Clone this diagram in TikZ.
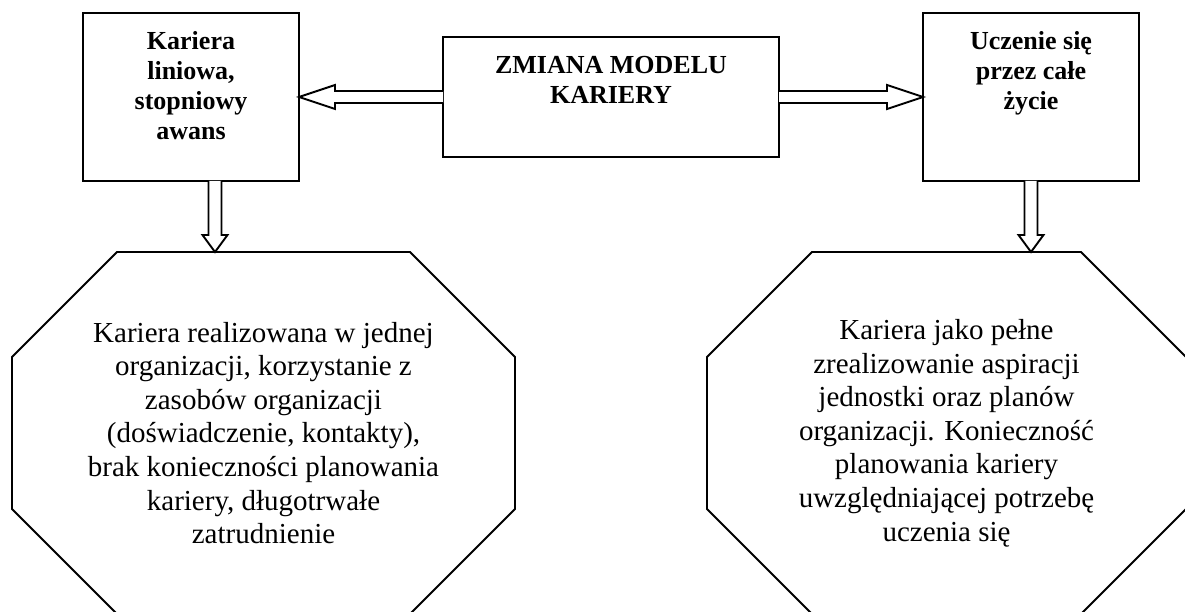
\documentclass[tikz,border=0pt]{standalone}
\usepackage{fontspec}
\setmainfont{Liberation Serif}
\usetikzlibrary{calc}
% top-aligned text block inside a fixed-size box
\newcommand\boxlines[3]{\parbox[c][#1pt][t]{#2pt}{\centering\rule{0pt}{37pt}#3}}
\begin{document}
\begin{tikzpicture}[x=1pt,y=-1pt,
  every node/.style={outer sep=0pt, inner sep=0pt},
  box/.style={draw, line width=1.9pt, font=\fontsize{26}{30}\selectfont\bfseries},
  octo/.style={minimum width=#1, minimum height=362, align=center,
               font=\fontsize{29}{33.6}\selectfont},
  outline/.style={line width=1.9pt, line join=miter},
  fatarrow/.style={line width=1.9pt, fill=white, line join=miter}]
\useasboundingbox (0,0) rectangle (1185,612);

% boxes
\node[box] (kl) at (191,97) {\boxlines{168}{216}{Kariera\\ liniowa,\\ stopniowy\\ awans}};
\node[box] (mid) at (611,97) {\boxlines{120}{336}{ZMIANA MODELU\\ KARIERY}};
\node[box] (kr) at (1031,97) {\boxlines{168}{216}{Uczenie się\\ przez całe\\ życie}};

% octagons
\node[octo=503] (o1) at (263.5,433) {Kariera realizowana w jednej\\ organizacji, korzystanie z\\ zasobów organizacji\\ (doświadczenie, kontakty),\\ brak konieczności planowania\\ kariery, długotrwałe\\ zatrudnienie};
\node[octo=479] (o2) at (946.5,433) {Kariera jako pełne\\ zrealizowanie aspiracji\\ jednostki oraz planów\\ organizacji. Konieczność\\ planowania kariery\\ uwzględniającej potrzebę\\ uczenia się};

\foreach \o in {o1,o2}{
  \draw[outline] ($(\o.north west)+(105,0)$) -- ($(\o.north east)+(-105,0)$)
    -- ($(\o.north east)+(0,105)$) -- ($(\o.south east)+(0,-105)$)
    -- ($(\o.south east)+(-105,0)$) -- ($(\o.south west)+(105,0)$)
    -- ($(\o.south west)+(0,-105)$) -- ($(\o.north west)+(0,105)$) -- cycle;
}

% horizontal block arrows
\draw[fatarrow] ($(mid.west)+(0,-6)$) -- ($(kl.east)+(36,-6)$) -- ($(kl.east)+(36,-12)$)
  -- (kl.east) -- ($(kl.east)+(36,12)$) -- ($(kl.east)+(36,6)$) -- ($(mid.west)+(0,6)$);
\draw[fatarrow] ($(mid.east)+(0,-6)$) -- ($(kr.west)+(-36,-6)$) -- ($(kr.west)+(-36,-12)$)
  -- (kr.west) -- ($(kr.west)+(-36,12)$) -- ($(kr.west)+(-36,6)$) -- ($(mid.east)+(0,6)$);

% vertical block arrows
\coordinate (d1) at ($(kl.south)+(24,0)$);
\coordinate (t1) at (d1 |- o1.north);
\coordinate (d2) at (kr.south);
\coordinate (t2) at (d2 |- o2.north);
\foreach \s/\t in {d1/t1,d2/t2}{
  \draw[fatarrow] ($(\s)+(-6.5,0)$) -- ($(\t)+(-6.5,-17)$) -- ($(\t)+(-12.5,-17)$)
    -- (\t) -- ($(\t)+(12.5,-17)$) -- ($(\t)+(6.5,-17)$) -- ($(\s)+(6.5,0)$);
}
\end{tikzpicture}
\end{document}
